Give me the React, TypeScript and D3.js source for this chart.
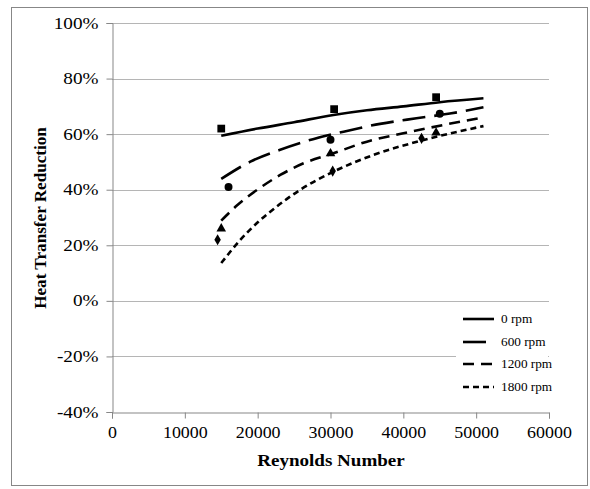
import { useEffect, useRef } from 'react';
import * as d3 from 'd3';

// measured points
const series = ['0 rpm', '600 rpm', '1200 rpm', '1800 rpm'];
const pointRe = [
  [15000, 30500, 44500],
  [16000, 30000, 45000],
  [15000, 30000, 44500],
  [14500, 30300, 42500],
];
const pointVal = [
  [0.62, 0.69, 0.733],
  [0.41, 0.58, 0.673],
  [0.26, 0.53, 0.605],
  [0.22, 0.467, 0.585],
];

// trend lines
const trendRe = [
  [15000, 20000, 25000, 30400, 35000, 40000, 45000, 51000],
  [15000, 19000, 23000, 27600, 31800, 36800, 41800, 46400, 51000],
  [15000, 17100, 19900, 23100, 26300, 30400, 35000, 40000, 45500, 51000],
  [15000, 17600, 19900, 22600, 25800, 30400, 35900, 42800, 51000],
];
const trendVal = [
  [0.594, 0.62, 0.643, 0.669, 0.686, 0.70, 0.715, 0.729],
  [0.439, 0.501, 0.543, 0.582, 0.609, 0.637, 0.657, 0.674, 0.697],
  [0.289, 0.342, 0.399, 0.453, 0.495, 0.531, 0.573, 0.603, 0.633, 0.66],
  [0.136, 0.219, 0.28, 0.339, 0.399, 0.465, 0.525, 0.579, 0.629],
];

const xTicks = [0, 10000, 20000, 30000, 40000, 50000, 60000];
const yTicks = [-0.4, -0.2, 0, 0.2, 0.4, 0.6, 0.8, 1.0];

const dashes = [null, '23,9', '11,7', '6,4'];
const markers = ['square', 'circle', 'triangle', 'diamond'];

// the reference text is wider than the font's natural width
const stretch = (sel: any, k: number) => {
  sel.each(function (this: SVGTextElement) {
    const len = this.getComputedTextLength();
    this.setAttribute('textLength', String(len * k));
    this.setAttribute('lengthAdjust', 'spacingAndGlyphs');
  });
};

export default function App() {
  const ref = useRef<SVGSVGElement>(null);

  useEffect(() => {
    const svg = d3.select(ref.current);
    svg.selectAll('*').remove();

    const left = 112, right = 549, top = 23, bottom = 412;
    const x = d3.scaleLinear().domain([0, 60000]).range([left, right]);
    const y = d3.scaleLinear().domain([-0.4, 1.0]).range([bottom, top]);
    const font = '"Liberation Serif", "Times New Roman", serif';

    svg.append('rect')
      .attr('x', 11.5).attr('y', 7.5).attr('width', 576).attr('height', 478)
      .attr('fill', 'white').attr('stroke', '#878787');

    // gridlines
    svg.append('g').selectAll('line')
      .data(yTicks.filter(d => d !== -0.4))
      .join('line')
      .attr('x1', left).attr('x2', right)
      .attr('y1', d => Math.round(y(d)) + 0.5).attr('y2', d => Math.round(y(d)) + 0.5)
      .attr('stroke', '#b5b5b5').attr('stroke-width', 1);

    const yAxis = svg.append('g')
      .attr('transform', `translate(${left + 0.5},0)`)
      .call(d3.axisLeft(y).tickValues(yTicks).tickSize(6).tickPadding(8)
        .tickFormat(d => `${Math.round(+d * 100)}%`));
    const xAxis = svg.append('g')
      .attr('transform', `translate(0,${bottom + 0.5})`)
      .call(d3.axisBottom(x).tickValues(xTicks).tickSize(6).tickPadding(8)
        .tickFormat(d3.format('d')));
    [yAxis, xAxis].forEach(g => {
      g.select('.domain').attr('stroke', '#878787');
      g.selectAll('.tick line').attr('stroke', '#878787');
      g.selectAll('text').attr('font-family', font).attr('font-size', 16).attr('fill', '#000');
    });
    stretch(yAxis.selectAll('text'), 1.2);
    stretch(xAxis.selectAll('text'), 1.12);

    // white legend area
    svg.append('rect').attr('x', 456).attr('y', 304).attr('width', 92).attr('height', 96).attr('fill', 'white');

    const line = d3.line<[number, number]>()
      .x(d => x(d[0])).y(d => y(d[1]))
      .curve(d3.curveMonotoneX);

    series.forEach((s, i) => {
      const pts = trendRe[i].map((r, j) => [r, trendVal[i][j]] as [number, number]);
      svg.append('path')
        .attr('d', line(pts))
        .attr('fill', 'none').attr('stroke', '#000').attr('stroke-width', 2.6)
        .attr('stroke-dasharray', dashes[i]);

      const sym = {
        square: d3.symbolSquare, circle: d3.symbolCircle,
        triangle: d3.symbolTriangle, diamond: d3.symbolDiamond,
      }[markers[i]];
      const size = [60, 50, 40, 36][i];
      svg.append('g').selectAll('path')
        .data(pointRe[i].map((r, j) => [r, pointVal[i][j]]))
        .join('path')
        .attr('transform', d => `translate(${x(d[0])},${y(d[1])})`)
        .attr('d', d3.symbol(sym, size)())
        .attr('fill', '#000');
    });

    // legend
    const legY = [319, 342, 364, 387];
    series.forEach((s, i) => {
      svg.append('line')
        .attr('x1', 463).attr('x2', 494)
        .attr('y1', legY[i]).attr('y2', legY[i])
        .attr('stroke', '#000').attr('stroke-width', 2.6)
        .attr('stroke-dasharray', dashes[i]);
      const t = svg.append('text')
        .attr('x', 501).attr('y', legY[i]).attr('dy', '0.35em')
        .attr('font-family', font).attr('font-size', 12.5).attr('fill', '#000')
        .text(s);
      stretch(t, 1.06);
    });

    const xt = svg.append('text')
      .attr('x', 331).attr('y', 466)
      .attr('text-anchor', 'middle')
      .attr('font-family', font).attr('font-size', 16).attr('font-weight', 'bold')
      .text('Reynolds Number');
    stretch(xt, 1.19);
    const yt = svg.append('text')
      .attr('transform', 'translate(46,218) rotate(-90)')
      .attr('text-anchor', 'middle')
      .attr('font-family', font).attr('font-size', 16).attr('font-weight', 'bold')
      .text('Heat Transfer Reduction');
    stretch(yt, 1.07);
  }, []);

  return (
    <svg ref={ref} width={590} height={489}
      style={{ position: 'absolute', left: 0, top: 0, background: 'white' }} />
  );
}
